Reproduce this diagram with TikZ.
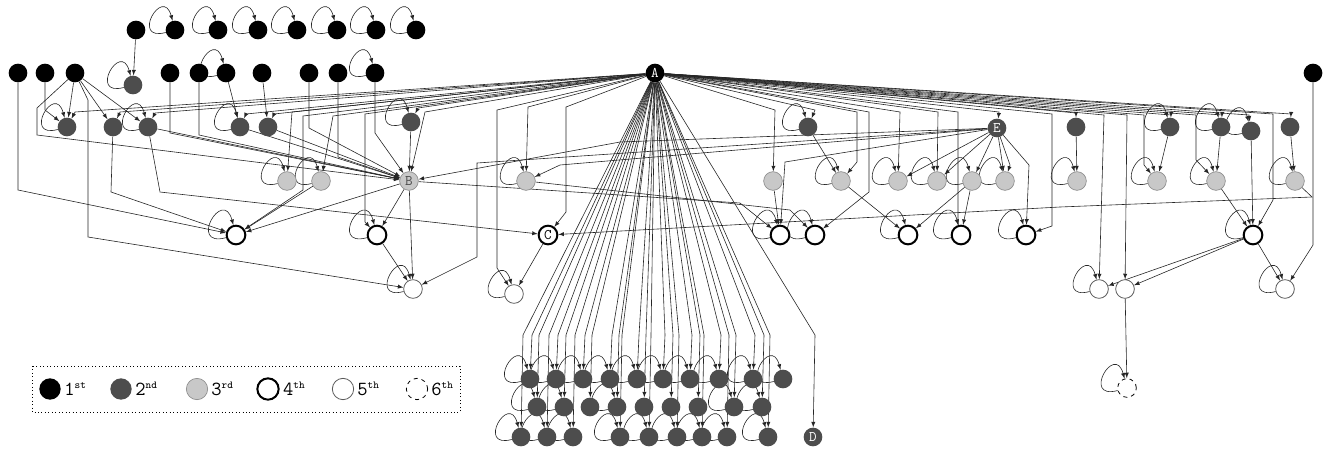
\documentclass[tikz,border=0pt]{standalone}
\usetikzlibrary{arrows,backgrounds}
\definecolor{ranktwo}{HTML}{4D4D4D}
\definecolor{rankthree}{HTML}{C8C8C8}
\begin{document}
\begin{tikzpicture}[x=0.75pt,y=-0.75pt,
  every node/.style={font=\ttfamily\fontsize{11}{11}\selectfont},
  vx/.style={circle,minimum size=14pt,inner sep=0pt},
  first/.style={vx,fill=black,text=white},
  second/.style={vx,fill=ranktwo,text=white},
  third/.style={vx,fill=rankthree,draw=black!45,line width=0.5pt,text=black!70},
  fourth/.style={vx,draw=black,line width=1.5pt,fill=white},
  fifth/.style={vx,draw=black!65,line width=0.6pt,fill=white},
  sixth/.style={vx,draw=black,dashed,line width=0.6pt,fill=white},
  ed/.style={-latex,line width=0.45pt,black!85},
  lp/.style={-latex,line width=0.45pt,black!85,out=195,in=105,looseness=7}]
  \useasboundingbox (0,0) rectangle (1330,454);
  % rank 1
  \node[first] (t1) at (136,30) {};
  \foreach \n/\x in {t2/175,t3/218,t4/258,t5/297,t6/337,t7/376,t8/416}
    \node[first] (\n) at (\x,30) {};
  \foreach \n/\x in {a1/18,a2/45,a3/75,a4/170,a5/199,a6/226,a7/262,a8/309,a9/338,a10/375,a11/1313}
    \node[first] (\n) at (\x,73) {};
  \node[first] (A) at (655,73) {A};
  % rank 2
  \node[second] (g) at (133,85) {};
  \foreach \n/\x in {d1/67,d2/113,d3/148,d4/240,d5/268,d7/808,d9/1076,d10/1170,d11/1221,d13/1290}
    \node[second] (\n) at (\x,127) {};
  \node[second] (d6) at (411,122) {};
  \node[second] (d12) at (1251,131) {};
  \node[second] (E) at (997,128) {E};
  % rank 3
  \foreach \n/\x in {l1/287,l2/321,l4/526,l5/773,l6/841,l7/898,l8/937,l9/972,l10/1005,l11/1077,l12/1157,l13/1216,l14/1295}
    \node[third] (\n) at (\x,181) {};
  \node[third] (B) at (409,181) {B};
  % rank 4
  \foreach \n/\x in {k1/236,k2/377,k4/780,k5/815,k6/908,k7/961,k8/1026,k9/1253}
    \node[fourth] (\n) at (\x,235) {};
  \node[fourth] (C) at (548,235) {C};
  % rank 5 and 6
  \foreach \n/\x in {w1/413,w3/1099,w4/1125,w5/1285}
    \node[fifth] (\n) at (\x,289) {};
  \node[fifth] (w2) at (514,294) {};
  \node[sixth] (s6) at (1127,388) {};
  % bottom block
  \foreach \n/\x in {p1/530,p2/556,p3/583,p4/610,p5/637,p6/663,p7/690,p8/719,p9/753,p10/783}
    \node[second] (\n) at (\x,379) {};
  \foreach \n/\x in {q1/537,q2/564,q3/590,q4/617,q5/644,q6/671,q7/698,q8/734,q9/762}
    \node[second] (\n) at (\x,407) {};
  \foreach \n/\x in {r1/521,r2/547,r3/573,r4/620,r5/649,r6/677,r7/702,r8/727,r9/768}
    \node[second] (\n) at (\x,437) {};
  \node[second] (D) at (813,437) {D};

  \begin{scope}[on background layer]
  % self loops
  \foreach \n in {t2,t3,t4,t5,t6,t7,t8,a6,a10,g,d1,d3,d4,d6,d7,d10,d11,d12,
      l1,l2,l4,l6,l7,l8,l9,l10,l11,l12,l13,l14,k1,k2,k4,k5,k6,k7,k8,k9,
      w1,w2,w3,w5,s6,p1,p2,p3,p4,p5,p6,p7,p8,p9,p10,q1,q2,q4,q8,q9,
      r1,r2,r3,r4,r5,r6,r7,r8,r9}
    \draw[lp] (\n) to (\n);
  % left part
  \draw[ed] (t1) -- (g);
  \draw[ed] (a1) -- (18,190) -- (k1);
  \draw[ed] (a2) -- (45,110) -- (d1);
  \draw[ed] (a3) -- (d1);
  \draw[ed] (a3) -- (d2);
  \draw[ed] (a3) -- (d3);
  \draw[ed] (a3) -- (88,100) -- (88,237) -- (w1);
  \draw[ed] (a3) -- (37,108) -- (37,135) -- (B);
  \draw[ed] (a4) -- (170,133) -- (B);
  \draw[ed] (a5) -- (199,135) -- (B);
  \draw[ed] (a6) -- (d4);
  \draw[ed] (a7) -- (d5);
  \draw[ed] (a8) -- (309,128) -- (B);
  \draw[ed] (a9) -- (338,157) -- (B);
  \draw[ed] (a10) -- (375,133) -- (B);
  \draw[ed] (d3) -- (B);
  \draw[ed] (d4) -- (B);
  \draw[ed] (d5) -- (B);
  \draw[ed] (d6) -- (B);
  \draw[ed] (d2) -- (111,192) -- (k1);
  \draw[ed] (d3) -- (160,192) -- (C);
  \draw[ed] (l2) -- (k1);
  \draw[ed] (B) -- (k1);
  \draw[ed] (B) -- (k2);
  \draw[ed] (B) -- (w1);
  \draw[ed] (k2) -- (w1);
  \draw[ed] (B) -- (740,203) -- (k4);
  \draw[ed] (l4) -- (790,210) -- (k5);
  \draw[ed] (C) -- (w2);
  % from A to the left
  \draw[ed] (A) -- (75,112) -- (d1);
  \draw[ed] (A) -- (120,112) -- (d2);
  \draw[ed] (A) -- (155,113) -- (d3);
  \draw[ed] (A) -- (246,114) -- (d4);
  \draw[ed] (A) -- (274,114) -- (d5);
  \draw[ed] (A) -- (292,112) -- (l1);
  \draw[ed] (A) -- (303,116) -- (303,190) -- (k1);
  \draw[ed] (A) -- (333,116) -- (l2);
  \draw[ed] (A) -- (365,114) -- (365,222) -- (k2);
  \draw[ed] (A) -- (418,108) -- (d6);
  \draw[ed] (A) -- (425,112) -- (B);
  \draw[ed] (A) -- (497,110) -- (497,268) -- (w2);
  \draw[ed] (A) -- (528,107) -- (l4);
  \draw[ed] (A) -- (566,107) -- (566,212) -- (C);
  % from A to the right
  \draw[ed] (A) -- (775,110) -- (l5);
  \draw[ed] (A) -- (815,110) -- (d7);
  \draw[ed] (A) -- (857,112) -- (857,162) -- (l6);
  \draw[ed] (A) -- (869,112) -- (869,192) -- (k5);
  \draw[ed] (A) -- (900,112) -- (l7);
  \draw[ed] (A) -- (938,112) -- (l8);
  \draw[ed] (A) -- (958,112) -- (958,224) -- (k7);
  \draw[ed] (A) -- (999,112) -- (E);
  \draw[ed] (A) -- (1052,114) -- (1052,226) -- (k8);
  \draw[ed] (A) -- (1076,113) -- (d9);
  \draw[ed] (A) -- (1104,115) -- (w3);
  \draw[ed] (A) -- (1127,115) -- (w4);
  \draw[ed] (A) -- (1144,115) -- (1144,165) -- (l12);
  \draw[ed] (A) -- (1171,115) -- (d10);
  \draw[ed] (A) -- (1196,115) -- (1196,160) -- (l13);
  \draw[ed] (A) -- (1222,115) -- (d11);
  \draw[ed] (A) -- (1249,115) -- (d12);
  \draw[ed] (A) -- (1273,114) -- (1273,200) -- (k9);
  \draw[ed] (A) -- (1291,114) -- (d13);
  % from E
  \draw[ed] (E) -- (l7);
  \draw[ed] (E) -- (l8);
  \draw[ed] (E) -- (l9);
  \draw[ed] (E) -- (l10);
  \draw[ed] (E) -- (1010,165) -- (l10);
  \draw[ed] (E) -- (1029,165) -- (k8);
  \draw[ed] (E) -- (785,162) -- (k4);
  \draw[ed] (E) -- (620,142) -- (B);
  \draw[ed] (E) -- (560,165) -- (l4);
  \draw[ed] (E) -- (477,163) -- (477,257) -- (w1);
  % right part
  \draw[ed] (d7) -- (l6);
  \draw[ed] (l5) -- (k4);
  \draw[ed] (l6) -- (k6);
  \draw[ed] (l9) -- (k7);
  \draw[ed] (l9) -- (k6);
  \draw[ed] (d9) -- (l11);
  \draw[ed] (d10) -- (l12);
  \draw[ed] (d11) -- (l13);
  \draw[ed] (d12) -- (k9);
  \draw[ed] (l13) -- (k9);
  \draw[ed] (d13) -- (l14);
  \draw[ed] (l14) -- (1312,197) -- (1060,207) -- (C);
  \draw[ed] (k9) -- (w3);
  \draw[ed] (k9) -- (w4);
  \draw[ed] (k9) -- (w5);
  \draw[ed] (a11) -- (1313,245) -- (w5);
  \draw[ed] (w4) -- (s6);
  % fan to the bottom block
  \foreach \n/\x in {p1/532,p2/558,p3/585,p4/612,p5/639,p6/665,p7/692,p8/721,p9/755,
      q1/539,q2/566,q3/592,q4/619,q5/646,q6/673,q7/700,q8/736,q9/764,
      r1/523,r2/549,r3/575,r4/622,r5/651,r6/679,r7/704,r8/729,r9/770,D/815}
    \draw[ed] (A) -- (\x,335) -- (\n);
  \end{scope}

  % legend
  \draw[dotted,line width=0.6pt] (32,366) rectangle (460,412);
  \foreach \n/\x/\s/\t/\u in {la/50/first/1/st,lb/121/second/2/nd,lc/197/third/3/rd,
      ld/268/fourth/4/th,le/343/fifth/5/th,lf/417/sixth/6/th}
    \node[\s,minimum size=16pt] (\n) at (\x,389) {}
      node[right=-1pt,font=\ttfamily\fontsize{15}{15}\selectfont] at (\n.east)
      {\t\raisebox{5pt}{\fontsize{8}{8}\selectfont\u}};
\end{tikzpicture}
\end{document}
